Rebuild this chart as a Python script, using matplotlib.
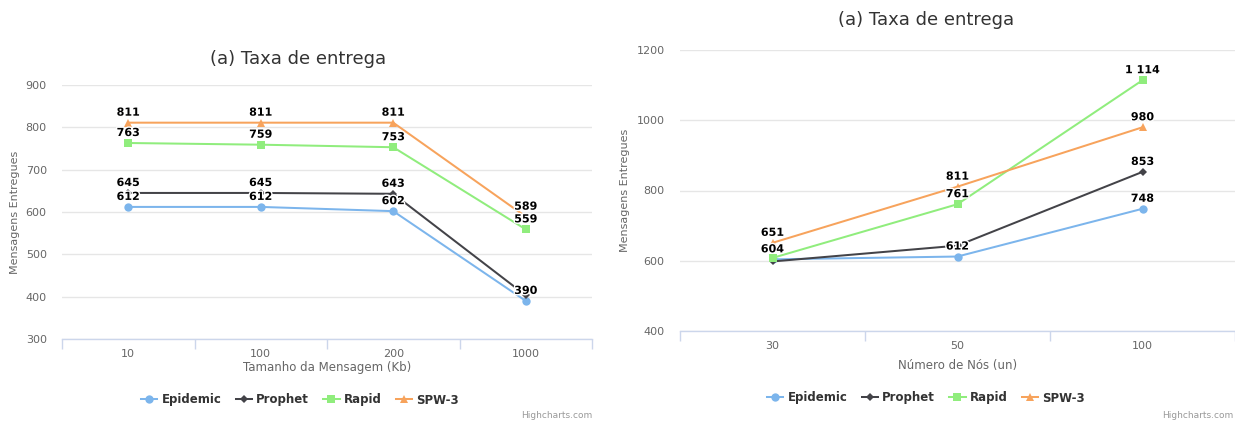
import matplotlib
matplotlib.use("Agg")
import matplotlib.pyplot as plt
import matplotlib.patheffects as pe
from matplotlib.ticker import FixedLocator

# dados
series_nomes = ["Epidemic", "Prophet", "Rapid", "SPW-3"]
cores = ["#7cb5ec", "#434348", "#90ed7d", "#f7a35c"]
marcadores = ["o", "D", "s", "^"]

tamanhos = ["10", "100", "200", "1000"]
epidemic_tam = [612, 612, 602, 390]
prophet_tam = [645, 645, 643, 403]
rapid_tam = [763, 759, 753, 559]
spw3_tam = [811, 811, 811, 589]

nos = ["30", "50", "100"]
epidemic_nos = [604, 612, 748]
prophet_nos = [598, 643, 853]
rapid_nos = [608, 761, 1114]
spw3_nos = [651, 811, 980]

W, H = 1235, 422
fig = plt.figure(figsize=(W / 100, H / 100), dpi=100)
plt.rcParams["font.family"] = ["DejaVu Sans"]


def px(x0, y_top, x1, y_bot):
    return [x0 / W, 1 - y_bot / H, (x1 - x0) / W, (y_bot - y_top) / H]


def fmt(v):
    return f"{v:,}".replace(",", " ")


def painel(rect, cats, dados, ymin, ymax, ystep, xlabel, titulo, titulo_xy,
           ylabel_xy, xlabel_y, legenda_xy, credito_xy):
    ax = fig.add_axes(rect)
    n = len(cats)
    xs = list(range(n))
    for nome, cor, mk, vals in zip(series_nomes, cores, marcadores, dados):
        ms = {"o": 6, "D": 4.2, "s": 5.8, "^": 6}[mk]
        ax.plot(xs, vals, color=cor, lw=1.45, marker=mk, ms=ms,
                markeredgewidth=0, label=nome, zorder=3, clip_on=False)

    ax.set_xlim(-0.5, n - 0.5)
    ax.set_ylim(ymin, ymax)

    # rótulos de dados, escondendo os que se sobrepõem
    to_px = ax.transData
    for i in xs:
        usados = []
        for vals in dados:
            ypix = to_px.transform((i, vals[i]))[1]
            if any(abs(ypix - u) < 12 for u in usados):
                continue
            usados.append(ypix)
            ax.annotate(fmt(vals[i]), (i, vals[i]), xytext=(0, 5),
                        textcoords="offset pixels", ha="center", va="bottom",
                        fontsize=8, fontweight="bold", color="#000000", zorder=5,
                        path_effects=[pe.withStroke(linewidth=2, foreground="white")])

    ax.set_yticks(range(ymin, ymax + 1, ystep))
    ax.set_xticks(xs)
    ax.set_xticklabels(cats)
    ax.xaxis.set_minor_locator(FixedLocator([k - 0.5 for k in range(n + 1)]))
    ax.tick_params(axis="x", which="major", length=0, pad=7, labelsize=8, labelcolor="#666666")
    ax.tick_params(axis="x", which="minor", length=7, color="#ccd6eb", width=1, direction="out")
    ax.tick_params(axis="y", length=0, pad=11, labelsize=8, labelcolor="#666666")
    ax.grid(axis="y", color="#e6e6e6", lw=1, zorder=0)
    for s in ["top", "right", "left"]:
        ax.spines[s].set_visible(False)
    ax.spines["bottom"].set_color("#ccd6eb")
    ax.spines["bottom"].set_linewidth(1)
    ax.set_axisbelow(True)

    fig.text(titulo_xy[0] / W, 1 - titulo_xy[1] / H, titulo, ha="center", va="center",
             fontsize=13, color="#333333")
    fig.text(ylabel_xy[0] / W, 1 - ylabel_xy[1] / H, "Mensagens Entregues", rotation=90,
             ha="center", va="center", fontsize=8, color="#666666")
    cx = (rect[0] + rect[2] / 2)
    fig.text(cx, 1 - xlabel_y / H, xlabel, ha="center", va="center", fontsize=8.5,
             color="#666666")
    leg = ax.legend(loc="center", bbox_to_anchor=(legenda_xy[0] / W, 1 - legenda_xy[1] / H),
                    bbox_transform=fig.transFigure, ncol=4, frameon=False,
                    prop={"weight": "bold", "size": 8.5}, handlelength=1.4,
                    columnspacing=1.2, handletextpad=0.35)
    for t in leg.get_texts():
        t.set_color("#333333")
    fig.text(credito_xy[0] / W, 1 - credito_xy[1] / H, "Highcharts.com", ha="right",
             va="center", fontsize=6.5, color="#999999")
    return ax


painel(px(62, 85, 592, 339), tamanhos, [epidemic_tam, prophet_tam, rapid_tam, spw3_tam],
       300, 900, 100, "Tamanho da Mensagem (Kb)", "(a) Taxa de entrega", (298, 59),
       (15, 212), 368, (300, 400), (592, 416))

painel(px(680, 50, 1235, 331), nos, [epidemic_nos, prophet_nos, rapid_nos, spw3_nos],
       400, 1200, 200, "Número de Nós (un)", "(a) Taxa de entrega", (926, 20),
       (625, 190), 365, (926, 398), (1233, 416))

fig.savefig("out.png", dpi=100)
